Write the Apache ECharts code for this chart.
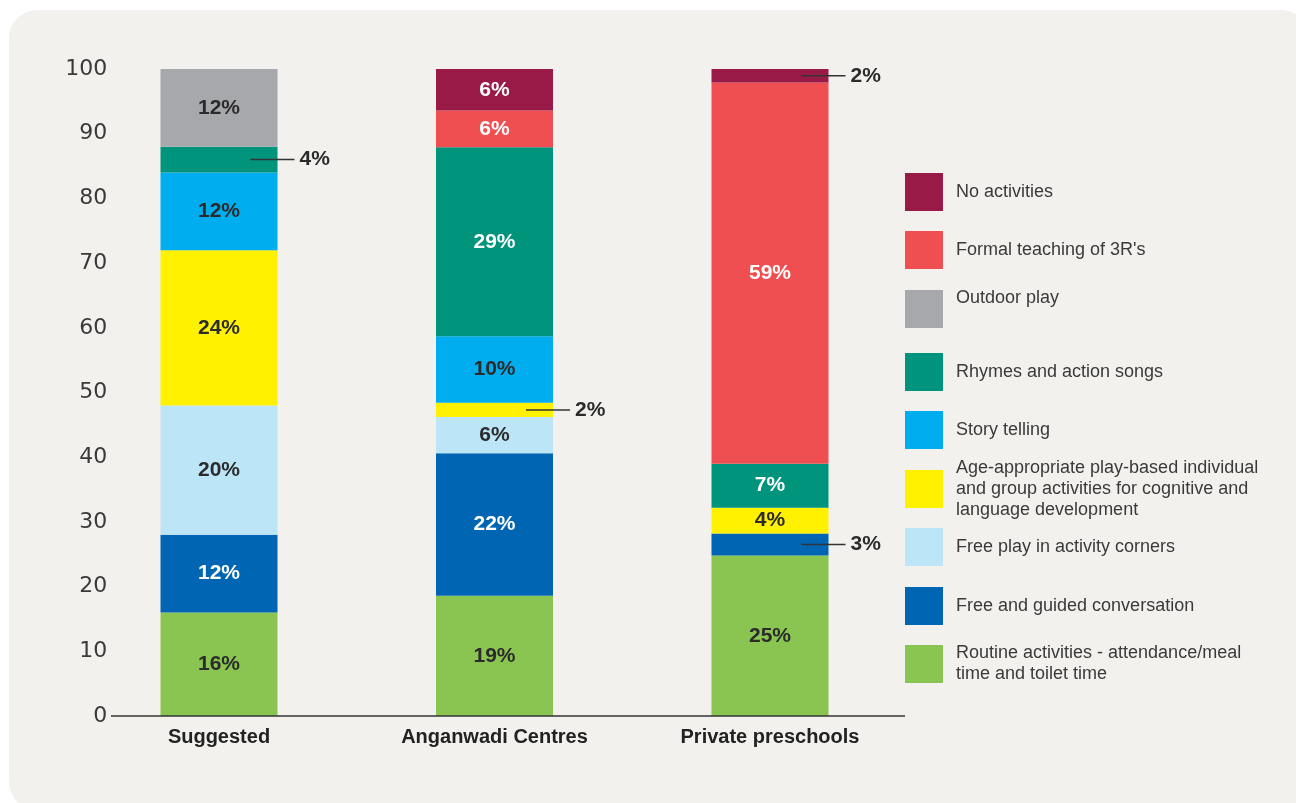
<!DOCTYPE html>
<html>
<head>
<meta charset="utf-8">
<title>Activities in preschools</title>
<script src="https://cdn.jsdelivr.net/npm/echarts@6/dist/echarts.min.js"></script>
<style>
  html, body { margin: 0; padding: 0; background: #fff; }
  #chart { width: 1296px; height: 803px; }
</style>
</head>
<body>
<div id="chart"></div>
<script>
// categories on the x axis
const categories = ['Suggested', 'Anganwadi Centres', 'Private preschools'];

// series values (%), one value per category
const routine = [16, 18.6, 24.8];
const freeGuided = [12, 22, 3.4];
const freePlay = [20, 5.6, 0];
const ageAppropriate = [24, 2.2, 4];
const storyTelling = [12, 10.3, 0];
const rhymes = [4, 29.2, 6.8];
const outdoor = [12, 0, 0];
const formal = [0, 5.7, 58.9];
const noActivities = [0, 6.4, 2.1];

// y axis ticks
const yMin = 0;
const yMax = 100;
const yStep = 10;

// stack order, bottom to top
const seriesDefs = [
  { name: 'Routine activities - attendance/meal time and toilet time', legend: 'Routine activities - attendance/meal\ntime and toilet time', data: routine, color: '#8bc551', dark: true },
  { name: 'Free and guided conversation', legend: 'Free and guided conversation', data: freeGuided, color: '#0066b3', dark: false },
  { name: 'Free play in activity corners', legend: 'Free play in activity corners', data: freePlay, color: '#bde5f8', dark: true },
  { name: 'Age-appropriate play-based individual and group activities for cognitive and language development', legend: 'Age-appropriate play-based individual\nand group activities for cognitive and\nlanguage development', data: ageAppropriate, color: '#fff100', dark: true },
  { name: 'Story telling', legend: 'Story telling', data: storyTelling, color: '#00aeef', dark: true },
  { name: 'Rhymes and action songs', legend: 'Rhymes and action songs', data: rhymes, color: '#00947c', dark: false },
  { name: 'Outdoor play', legend: 'Outdoor play\n ', data: outdoor, color: '#a7a8ab', dark: true },
  { name: "Formal teaching of 3R's", legend: "Formal teaching of 3R's", data: formal, color: '#f04f52', dark: false },
  { name: 'No activities', legend: 'No activities', data: noActivities, color: '#9a1a47', dark: false }
];

// segments whose label sits outside the bar, with a leader line
const callouts = [
  ['Rhymes and action songs', 0],
  ['Age-appropriate play-based individual and group activities for cognitive and language development', 1],
  ['No activities', 2],
  ['Free and guided conversation', 2]
];

// legend icon tops, listed top to bottom
const legendTops = [173, 231, 290, 353, 411, 470, 528, 587, 645];

const FONT = '"Liberation Sans", Arial, sans-serif';
const DARK_TEXT = '#2b2b2b';

function isCallout(name, idx) {
  return callouts.some(c => c[0] === name && c[1] === idx);
}

const series = seriesDefs.map(def => ({
  name: def.name,
  type: 'bar',
  stack: 'total',
  barWidth: 117,
  itemStyle: { color: def.color },
  emphasis: { disabled: true },
  data: def.data.map((v, i) => {
    const item = { value: v };
    if (v === 0) {
      item.label = { show: false };
    } else if (isCallout(def.name, i)) {
      item.label = {
        show: true,
        position: [90, '50%'],
        align: 'left',
        verticalAlign: 'middle',
        formatter: p => '{l|}{v|' + Math.round(p.value) + '%}',
        rich: {
          l: { width: 44, height: 1.5, backgroundColor: '#333' },
          v: { padding: [0, 0, 0, 5], fontFamily: FONT, fontSize: 21, fontWeight: 'bold', color: DARK_TEXT }
        }
      };
    }
    return item;
  }),
  label: {
    show: true,
    position: 'inside',
    fontFamily: FONT,
    fontSize: 21,
    fontWeight: 'bold',
    color: def.dark ? DARK_TEXT : '#ffffff',
    formatter: p => Math.round(p.value) + '%'
  }
}));

// legends: one per entry so each row can sit where the reference puts it
const legendOrder = seriesDefs.slice().reverse();
const legends = legendOrder.map((def, i) => {
  const lines = def.legend.split('\n').length;
  const shift = Math.min(0, 19 - 10.5 * lines);
  return {
    data: [def.name],
    orient: 'vertical',
    left: 905,
    top: legendTops[i] + shift,
    padding: 0,
    icon: 'rect',
    itemWidth: 38,
    itemHeight: 38,
    selectedMode: false,
    formatter: () => def.legend,
    textStyle: {
      fontFamily: FONT,
      fontSize: 18,
      color: '#3a3a3a',
      lineHeight: 21,
      padding: [0, 0, 0, 8]
    }
  };
});

const chart = echarts.init(document.getElementById('chart'));
chart.setOption({
  backgroundColor: '#ffffff',
  animation: false,
  graphic: [
    {
      type: 'rect',
      z: -10,
      silent: true,
      shape: { x: 9, y: 10, width: 1300, height: 800, r: 28 },
      style: { fill: '#f2f1ee' }
    },
    {
      type: 'line',
      z: 100,
      silent: true,
      shape: { x1: 111, y1: 716, x2: 905, y2: 716 },
      style: { stroke: '#333', lineWidth: 1.5 }
    }
  ],
  legend: legends,
  grid: { left: 81.25, right: 388.25, top: 69, bottom: 87, containLabel: false },
  xAxis: {
    type: 'category',
    data: categories,
    axisLine: { show: false },
    axisTick: { show: false },
    axisLabel: {
      margin: 11,
      fontFamily: FONT,
      fontSize: 20,
      fontWeight: 'bold',
      color: '#222'
    }
  },
  yAxis: {
    type: 'value',
    min: yMin,
    max: yMax,
    interval: yStep,
    splitLine: { show: false },
    axisLine: { show: false },
    axisTick: { show: false },
    axisLabel: {
      margin: -26,
      fontFamily: '"DejaVu Sans", sans-serif',
      fontSize: 22,
      color: '#3a3a3a'
    }
  },
  series: series
});
</script>
</body>
</html>
